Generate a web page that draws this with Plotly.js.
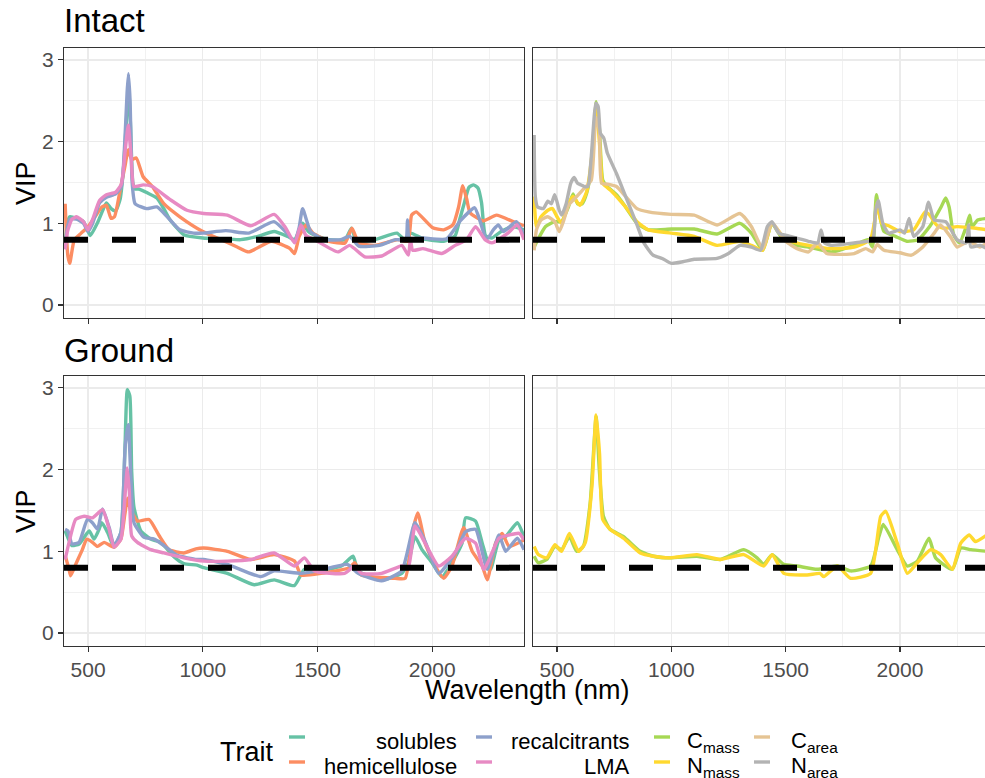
<!DOCTYPE html>
<html>
<head>
<meta charset="utf-8">
<script src="https://cdn.plot.ly/plotly-3.0.1.min.js"></script>
<style>html,body{margin:0;padding:0;background:#fff;}#chart{width:985px;height:778px;}</style>
</head>
<body>
<div id="chart"></div>
<script>
// ---------- DATA ----------
const traitNames = ["solubles","hemicellulose","recalcitrants","LMA","C<sub>mass</sub>","N<sub>mass</sub>","C<sub>area</sub>","N<sub>area</sub>"];
const traitColors = ["#66C2A5","#FC8D62","#8DA0CB","#E78AC3","#A6D854","#FFD92F","#E5C494","#B3B3B3"];
const xTickVals = [500,1000,1500,2000];
const yTickVals = [0,1,2,3];
const vipThreshold = 0.8;

// Intact - left panel
const intactSolublesWl = [400,410,420,450,480,500,510,540,570,580,600,620,640,655,668,677,685,695,705,720,760,800,830,858,917,1000,1100,1165,1240,1311,1370,1400,1435,1460,1500,1550,1620,1648,1670,1750,1846,1880,1905,1962,2050,2100,2120,2140,2160,2180,2200,2215,2232,2260,2300,2350,2400];
const intactSolublesVip = [0.76,1.0,1.08,1.06,1.02,0.9,0.85,1.0,1.2,1.25,1.18,1.15,1.3,1.7,2.3,2.65,2.2,1.5,1.42,1.42,1.37,1.31,1.18,1.04,0.86,0.82,0.81,0.8,0.84,0.9,0.84,0.8,1.0,0.9,0.84,0.8,0.8,0.94,0.78,0.8,0.88,0.8,0.88,0.81,0.78,0.85,1.05,1.25,1.44,1.47,1.43,1.25,0.85,0.82,0.9,0.96,0.92];

const intactHemiWl = [400,405,412,420,440,470,500,530,560,580,600,615,640,660,675,690,710,740,780,830,900,1000,1080,1150,1200,1300,1380,1400,1420,1450,1480,1550,1620,1650,1680,1750,1850,1895,1910,1930,2000,2050,2090,2115,2133,2150,2165,2222,2280,2353,2400];
const intactHemiVip = [1.24,0.9,0.6,0.51,0.8,0.88,0.96,1.08,1.2,1.22,1.06,1.08,1.41,1.69,1.9,1.78,1.8,1.57,1.45,1.24,1.08,0.9,0.8,0.71,0.65,0.78,0.69,0.63,0.84,0.98,0.88,0.78,0.76,0.94,0.76,0.73,0.8,0.78,1.1,1.14,0.95,0.92,0.98,1.2,1.46,1.3,1.13,1.03,1.1,1.02,0.97];

const intactRecalcWl = [400,410,420,450,480,500,520,550,580,620,645,660,670,676,683,692,705,755,800,845,900,960,1000,1100,1200,1310,1360,1400,1420,1435,1470,1530,1600,1640,1680,1770,1840,1885,1892,1900,1960,2063,2122,2185,2207,2237,2266,2288,2310,2367,2400];
const intactRecalcVip = [0.7,0.95,1.05,1.05,1.0,0.9,1.0,1.25,1.32,1.36,1.45,2.0,2.6,2.83,2.5,1.5,1.24,1.18,1.2,1.08,0.92,0.88,0.88,0.91,0.88,1.02,0.9,0.78,0.95,1.18,0.9,0.8,0.8,0.84,0.72,0.73,0.8,0.8,1.04,0.82,0.82,0.81,1.03,1.19,1.04,0.8,0.92,0.98,0.9,1.02,0.85];

const intactLmaWl = [400,410,430,450,480,500,520,550,580,620,645,662,675,688,700,740,780,858,931,1004,1107,1209,1311,1360,1400,1428,1450,1487,1589,1640,1706,1780,1867,1896,1905,1915,1960,2042,2100,2150,2189,2230,2260,2330,2370,2400];
const intactLmaVip = [0.68,0.9,1.05,1.08,1.02,0.92,1.05,1.28,1.35,1.38,1.48,1.9,2.2,1.8,1.45,1.47,1.45,1.29,1.16,1.12,1.1,0.97,1.11,0.95,0.76,0.98,0.85,0.8,0.65,0.73,0.59,0.6,0.73,0.61,0.8,0.67,0.69,0.63,0.73,0.8,0.96,0.8,0.76,0.88,0.98,0.8];

// Intact - right panel
const intactCmassWl = [400,420,450,490,520,550,570,590,610,630,650,672,685,700,720,760,800,850,900,1000,1100,1200,1300,1350,1400,1440,1480,1550,1600,1700,1800,1860,1880,1897,1910,1930,1980,2030,2080,2130,2180,2200,2215,2235,2260,2290,2305,2315,2340,2380];
const intactCmassVip = [0.71,0.82,0.96,1.02,1.02,1.2,1.36,1.24,1.24,1.37,1.69,2.49,2.18,1.53,1.45,1.35,1.2,1.0,0.92,0.93,0.93,0.87,1.0,0.88,0.67,1.0,0.84,0.73,0.71,0.65,0.73,0.8,0.71,1.35,1.12,0.9,0.84,0.78,0.8,0.96,1.2,1.31,1.2,0.86,0.76,0.96,1.1,0.96,1.04,1.06];

const intactNmassWl = [400,410,430,460,480,500,520,550,570,600,630,660,672,690,700,740,800,850,900,1000,1100,1200,1300,1350,1400,1440,1500,1600,1700,1800,1870,1890,1900,1920,1950,2000,2060,2110,2130,2160,2191,2250,2333,2380];
const intactNmassVip = [1.33,0.96,1.08,1.16,1.18,1.08,1.0,1.24,1.33,1.22,1.39,2.02,2.43,1.82,1.49,1.39,1.2,1.02,0.92,0.88,0.84,0.73,0.78,0.73,0.67,1.0,0.8,0.73,0.69,0.71,0.8,1.04,1.25,1.0,0.97,0.9,0.92,1.14,1.1,0.98,0.94,0.96,0.94,0.92];

const intactCareaWl = [400,410,430,460,490,510,530,550,580,620,650,670,685,695,720,760,800,850,900,1000,1100,1200,1300,1350,1400,1440,1500,1550,1600,1640,1680,1750,1800,1850,1880,1900,1930,2000,2050,2100,2150,2177,2220,2250,2300,2350,2380];
const intactCareaVip = [0.67,0.92,1.04,1.08,1.02,0.9,1.04,1.22,1.31,1.43,1.53,2.3,2.14,1.49,1.48,1.45,1.33,1.18,1.14,1.11,1.1,0.98,1.12,0.96,0.69,1.01,0.78,0.69,0.65,0.76,0.63,0.62,0.63,0.69,0.65,0.74,0.67,0.64,0.61,0.71,0.88,0.98,0.84,0.71,0.78,0.71,0.76];

const intactNareaWl = [400,405,415,440,460,475,490,510,520,540,560,575,590,605,620,635,650,670,680,690,705,720,760,800,850,880,920,960,1000,1050,1100,1200,1250,1300,1350,1390,1420,1440,1470,1520,1600,1640,1655,1670,1700,1800,1880,1893,1905,1925,1950,2000,2020,2040,2060,2100,2125,2150,2200,2250,2290,2300,2310,2350,2380];
const intactNareaVip = [2.08,1.33,1.2,1.18,1.27,1.24,1.35,1.16,1.1,1.24,1.49,1.56,1.49,1.47,1.45,1.45,1.82,2.47,2.43,2.1,2.04,1.86,1.61,1.33,0.98,0.76,0.61,0.57,0.51,0.53,0.56,0.57,0.63,0.73,0.71,0.67,0.96,1.02,0.88,0.84,0.78,0.76,0.92,0.76,0.73,0.76,0.8,1.15,1.28,1.0,0.88,0.92,0.88,1.06,0.84,0.96,1.26,1.04,1.02,0.8,0.76,0.98,0.71,0.73,0.69];

// Ground - left panel
const groundSolublesWl = [400,410,430,461,490,505,526,545,560,585,613,643,660,671,682,690,700,730,773,817,875,917,975,1004,1107,1224,1311,1399,1443,1501,1604,1655,1677,1779,1867,1896,1925,1955,1999,2042,2086,2130,2145,2189,2218,2254,2291,2320,2371,2400];
const groundSolublesVip = [1.25,1.18,1.07,1.09,1.2,1.25,1.15,1.25,1.35,1.23,1.05,1.23,2.2,2.98,2.9,1.98,1.54,1.25,1.15,1.11,0.93,0.85,0.83,0.8,0.73,0.59,0.65,0.58,0.78,0.76,0.82,0.94,0.76,0.65,0.73,0.86,1.18,1.02,0.86,0.69,0.86,1.1,1.41,1.37,1.1,0.78,1.14,1.18,1.35,1.18];

const groundHemiWl = [400,417,424,446,475,494,519,541,570,613,643,660,672,685,700,715,766,810,853,917,970,1004,1107,1209,1311,1400,1428,1516,1640,1662,1691,1838,1882,1918,1937,1969,2013,2050,2086,2137,2174,2218,2240,2276,2305,2335,2400];
const groundHemiVip = [0.95,0.78,0.7,0.84,1.02,1.15,1.11,1.06,1.11,1.05,1.15,1.45,1.65,1.5,1.43,1.37,1.39,1.19,1.02,0.98,1.03,1.04,1.0,0.9,0.96,0.88,0.71,0.73,0.8,0.86,0.71,0.67,0.67,1.29,1.47,1.1,0.82,0.67,0.82,1.29,1.0,0.82,0.65,1.1,1.22,1.06,1.14];

const groundRecalcWl = [400,412,430,461,497,519,541,563,592,613,643,662,675,688,700,744,788,831,889,975,1004,1107,1253,1311,1428,1501,1630,1677,1779,1867,1925,1969,2028,2101,2145,2189,2240,2291,2320,2371,2400];
const groundRecalcVip = [1.27,1.25,1.09,1.11,1.39,1.35,1.27,1.52,1.29,1.07,1.23,2.3,2.55,1.8,1.35,1.17,1.15,1.07,0.95,0.9,0.9,0.84,0.69,0.76,0.73,0.76,0.84,0.73,0.64,0.76,1.35,1.12,0.73,0.98,1.24,1.27,0.78,1.2,1.0,1.16,1.02];

const groundLmaWl = [400,417,446,483,519,563,592,613,643,664,671,680,690,715,773,831,917,1006,1107,1209,1311,1399,1443,1487,1618,1662,1691,1779,1867,1896,1925,1969,2028,2086,2145,2189,2225,2291,2335,2379,2400];
const groundLmaVip = [0.9,1.11,1.39,1.43,1.41,1.51,1.27,1.05,1.15,1.8,2.02,1.72,1.19,1.11,1.02,0.98,0.92,0.88,0.88,0.9,0.98,0.82,0.92,0.76,0.73,0.82,0.73,0.73,0.82,0.8,1.31,1.1,0.82,0.94,1.16,1.1,0.78,1.16,1.2,1.22,1.14];

// Ground - right panel
const groundCmassWl = [400,418,455,491,520,554,586,615,645,671,685,703,732,791,864,922,995,1112,1214,1317,1375,1404,1441,1492,1550,1638,1726,1784,1872,1908,1927,1988,2032,2076,2127,2156,2229,2266,2310,2380];
const groundCmassVip = [0.94,0.86,0.9,1.06,1.02,1.18,1.0,1.06,1.59,2.65,2.0,1.43,1.27,1.18,1.0,0.94,0.92,0.94,0.9,1.02,0.92,0.84,0.96,0.84,0.82,0.78,0.82,0.76,0.82,1.18,1.33,1.02,0.82,0.88,1.16,0.92,0.78,1.04,1.02,1.0];

const groundNmassWl = [400,418,455,491,520,554,594,623,653,671,686,700,732,791,864,922,995,1112,1214,1317,1404,1441,1492,1594,1650,1667,1726,1784,1872,1916,1938,1988,2032,2076,2135,2178,2229,2266,2303,2330,2380];
const groundNmassVip = [1.06,0.96,0.92,1.08,1.0,1.22,1.0,1.1,1.8,2.67,2.2,1.39,1.27,1.16,0.98,0.94,0.92,0.96,0.9,0.96,0.82,0.96,0.73,0.71,0.73,0.69,0.82,0.67,0.73,1.43,1.49,1.1,0.73,0.86,1.02,0.96,0.78,1.1,1.2,1.12,1.2];

// ---------- BUILD ----------
const panels = [
  {xa:'x',  ya:'y',  series:[[intactSolublesWl,intactSolublesVip,0],[intactHemiWl,intactHemiVip,1],[intactRecalcWl,intactRecalcVip,2],[intactLmaWl,intactLmaVip,3]]},
  {xa:'x2', ya:'y2', series:[[intactCmassWl,intactCmassVip,4],[intactNmassWl,intactNmassVip,5],[intactCareaWl,intactCareaVip,6],[intactNareaWl,intactNareaVip,7]]},
  {xa:'x3', ya:'y3', series:[[groundSolublesWl,groundSolublesVip,0],[groundHemiWl,groundHemiVip,1],[groundRecalcWl,groundRecalcVip,2],[groundLmaWl,groundLmaVip,3]]},
  {xa:'x4', ya:'y4', series:[[groundCmassWl,groundCmassVip,4],[groundNmassWl,groundNmassVip,5]]}
];

const traces = [];
panels.forEach(p => {
  p.series.forEach(s => {
    traces.push({type:'scatter', mode:'lines', x:s[0], y:s[1], xaxis:p.xa, yaxis:p.ya,
      line:{color:traitColors[s[2]], width:3.4, shape:'spline', smoothing:0.5},
      showlegend:false, hoverinfo:'skip'});
  });
  traces.push({type:'scatter', mode:'lines', x:[395,2400], y:[vipThreshold,vipThreshold], xaxis:p.xa, yaxis:p.ya,
    line:{color:'#000000', width:6, dash:'24px,24px'}, showlegend:false, hoverinfo:'skip'});
});

const W = 985, H = 778;
const px = v => v / W;
const py = v => 1 - v / H;
const FONT = 'Liberation Sans, Arial, Helvetica, sans-serif';

function xAxis(domain, range, anchor, labels) {
  return {domain:domain, range:range, anchor:anchor, tickmode:'array', tickvals:xTickVals,
    ticktext:xTickVals.map(String), showticklabels:labels, ticks:'outside', ticklen:5, tickwidth:1.1,
    tickcolor:'#333333', showgrid:true, gridcolor:'#EBEBEB', gridwidth:1.3,
    minor:{tick0:0, dtick:250, showgrid:true, gridcolor:'#EBEBEB', gridwidth:0.7},
    showline:true, mirror:true, linecolor:'#333333', linewidth:1.1, zeroline:false,
    tickfont:{family:FONT, size:21, color:'#4D4D4D'}};
}
function yAxis(domain, anchor, labels) {
  return {domain:domain, range:[-0.159,3.146], anchor:anchor, tickmode:'array', tickvals:yTickVals,
    ticktext:yTickVals.map(String), showticklabels:labels, ticks:labels?'outside':'', ticklen:5, tickwidth:1.1,
    tickcolor:'#333333', showgrid:true, gridcolor:'#EBEBEB', gridwidth:1.3,
    minor:{tick0:0, dtick:0.5, showgrid:true, gridcolor:'#EBEBEB', gridwidth:0.7},
    showline:true, mirror:labels, linecolor:'#333333', linewidth:1.1, zeroline:false,
    tickfont:{family:FONT, size:21, color:'#4D4D4D'}};
}

const dxL = [px(64), px(524)], dxR = [px(533), 1];
const dyT = [py(318), py(48)], dyB = [py(646), py(376)];

const annotations = [
  {text:'Intact', x:px(62), y:py(21), xref:'paper', yref:'paper', xanchor:'left', yanchor:'middle', showarrow:false, font:{family:FONT, size:33, color:'#000'}},
  {text:'Ground', x:px(62), y:py(350), xref:'paper', yref:'paper', xanchor:'left', yanchor:'middle', showarrow:false, font:{family:FONT, size:33, color:'#000'}},
  {text:'VIP', x:px(26), y:py(183), xref:'paper', yref:'paper', xanchor:'center', yanchor:'middle', textangle:-90, showarrow:false, font:{family:FONT, size:27, color:'#000'}},
  {text:'VIP', x:px(26), y:py(511), xref:'paper', yref:'paper', xanchor:'center', yanchor:'middle', textangle:-90, showarrow:false, font:{family:FONT, size:27, color:'#000'}},
  {text:'Wavelength (nm)', x:px(527), y:py(690), xref:'paper', yref:'paper', xanchor:'center', yanchor:'middle', showarrow:false, font:{family:FONT, size:27, color:'#000'}},
  {text:'Trait', x:px(218), y:py(752), xref:'paper', yref:'paper', xanchor:'left', yanchor:'middle', showarrow:false, font:{family:FONT, size:27, color:'#000'}}
];
const shapes = [];

// legend (manual, ggplot-style right-aligned labels)
const legendCols = [
  {keyX:[289,305], textX:459, anchor:'right', items:[0,1]},
  {keyX:[476,492], textX:632, anchor:'right', items:[2,3]},
  {keyX:[654,670], textX:685, anchor:'left', items:[4,5]},
  {keyX:[754,770], textX:789, anchor:'left', items:[6,7]}
];
const rowY = [741, 766];
legendCols.forEach(c => {
  c.items.forEach((ti, r) => {
    shapes.push({type:'line', xref:'paper', yref:'paper', x0:px(c.keyX[0]), x1:px(c.keyX[1]), y0:py(rowY[r]-4), y1:py(rowY[r]-4),
      line:{color:traitColors[ti], width:3.4}});
    const hasSub = ti >= 4;
    annotations.push({text:traitNames[ti], x:px(c.textX), y:py(rowY[r] + (hasSub ? 1 : 0)), xref:'paper', yref:'paper',
      xanchor:c.anchor, yanchor:'middle', showarrow:false, font:{family:FONT, size:22, color:'#000'}});
  });
});

const layout = {
  width:W, height:H, margin:{l:0, r:0, t:0, b:0}, paper_bgcolor:'#ffffff', plot_bgcolor:'#ffffff',
  showlegend:false, font:{family:FONT},
  xaxis: xAxis(dxL, [395,2400], 'y', false),
  yaxis: yAxis(dyT, 'x', true),
  xaxis2: xAxis(dxR, [395,2372], 'y2', false),
  yaxis2: yAxis(dyT, 'x2', false),
  xaxis3: xAxis(dxL, [395,2400], 'y3', true),
  yaxis3: yAxis(dyB, 'x3', true),
  xaxis4: xAxis(dxR, [395,2372], 'y4', true),
  yaxis4: yAxis(dyB, 'x4', false),
  annotations: annotations,
  shapes: shapes
};

Plotly.newPlot('chart', traces, layout, {staticPlot:true, displayModeBar:false});
</script>
</body>
</html>
